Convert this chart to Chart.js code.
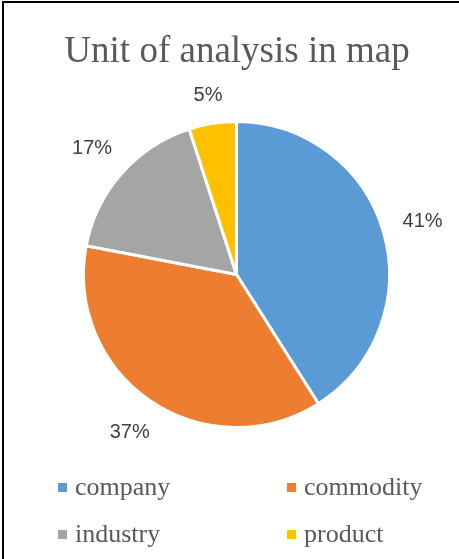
<!DOCTYPE html>
<html>
<head>
<meta charset="utf-8">
<script src="https://cdn.jsdelivr.net/npm/chart.js@4/dist/chart.umd.min.js"></script>
<style>
  html, body { margin: 0; padding: 0; background: #fff; }
  canvas { display: block; }
</style>
</head>
<body>
<canvas id="pie" width="459" height="559"></canvas>
<script>
const categories = ['company', 'commodity', 'industry', 'product'];
const shares = [41, 37, 17, 5];
const sliceColors = ['#5B9BD5', '#ED7D31', '#A5A5A5', '#FFC000'];
const chartTitle = 'Unit of analysis in map';

// percentage labels just outside each slice
const outsideLabels = {
    id: 'outsideLabels',
    afterDatasetsDraw(chart) {
        const ctx = chart.ctx;
        const meta = chart.getDatasetMeta(0);
        const values = chart.data.datasets[0].data;
        const total = values.reduce((a, b) => a + b, 0);
        ctx.save();
        ctx.font = '20px "Liberation Sans", Arial, sans-serif';
        ctx.fillStyle = '#404040';
        ctx.textAlign = 'center';
        ctx.textBaseline = 'middle';
        meta.data.forEach((arc, i) => {
            const p = arc.getProps(['x', 'y', 'startAngle', 'endAngle', 'outerRadius'], true);
            const mid = (p.startAngle + p.endAngle) / 2;
            const ux = Math.cos(mid), uy = Math.sin(mid);
            const text = Math.round(values[i] / total * 100) + '%';
            const w = ctx.measureText(text).width;
            const h = 15;
            const reach = p.outerRadius + 19.5 + Math.abs(ux) * w / 2 + Math.abs(uy) * h / 2;
            ctx.fillText(text, p.x + ux * reach, p.y + uy * reach + 1);
        });
        ctx.restore();
    }
};

// title, two-column legend along the bottom, and the frame lines
const decorations = {
    id: 'decorations',
    afterDraw(chart) {
        const ctx = chart.ctx;
        ctx.save();
        ctx.font = '37px "Liberation Serif", "Times New Roman", serif';
        ctx.fillStyle = '#595959';
        ctx.textAlign = 'center';
        ctx.textBaseline = 'alphabetic';
        ctx.fillText(chartTitle, 237, 62);

        const colX = [58, 287];
        const rowY = [495, 542];
        ctx.font = '26px "Liberation Serif", "Times New Roman", serif';
        ctx.textAlign = 'left';
        chart.data.labels.forEach((label, i) => {
            const x = colX[i % 2];
            const y = rowY[Math.floor(i / 2)];
            ctx.fillStyle = chart.data.datasets[0].backgroundColor[i];
            ctx.fillRect(x, y - 12, 9, 9);
            ctx.fillStyle = '#595959';
            ctx.fillText(label, x + 17, y);
        });

        ctx.fillStyle = '#000';
        ctx.fillRect(2, 1, chart.width - 2, 2);
        ctx.fillRect(2, 1, 2, chart.height - 1);
        ctx.restore();
    }
};

new Chart(document.getElementById('pie'), {
    type: 'pie',
    data: {
        labels: categories,
        datasets: [{
            data: shares,
            backgroundColor: sliceColors,
            borderColor: '#ffffff',
            borderWidth: 3
        }]
    },
    options: {
        responsive: false,
        animation: false,
        layout: { padding: { top: 120, left: 82, right: 68, bottom: 130 } },
        plugins: {
            legend: { display: false },
            tooltip: { enabled: false },
            title: { display: false }
        }
    },
    plugins: [outsideLabels, decorations]
});
</script>
</body>
</html>
